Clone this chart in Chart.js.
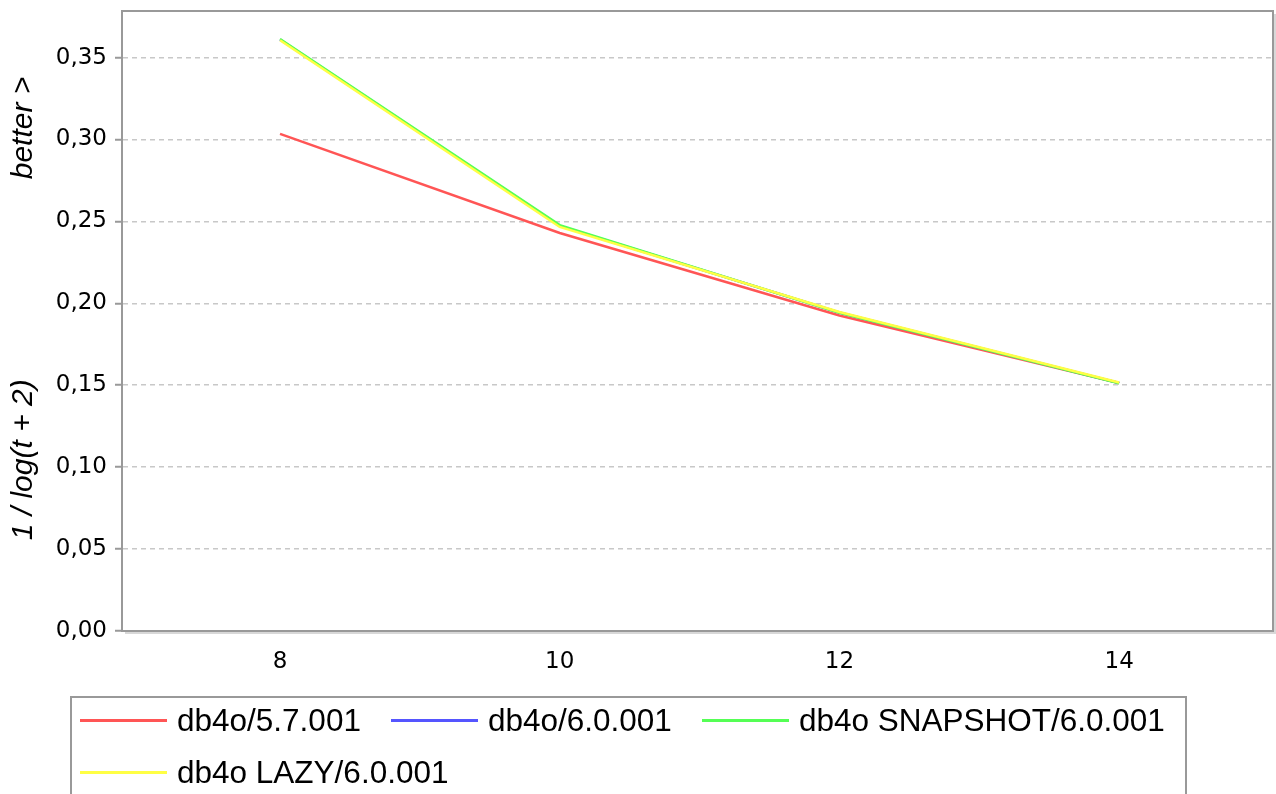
<!DOCTYPE html>
<html lang="en">
<head>
  <meta charset="UTF-8">
  <title>db4o benchmark</title>
  <script src="https://cdn.jsdelivr.net/npm/chart.js"></script>
  <style>
    html, body {
      margin: 0;
      padding: 0;
      background: #fff;
      overflow: hidden;
    }
    .wrap {
      position: relative;
      width: 1276px;
      height: 794px;
    }
    .legend {
      position: absolute;
      left: 70px;
      top: 696px;
      width: 1117px;
      height: 200px;
      box-sizing: border-box;
      border: 2px solid #999;
      padding: 0 0 0 8px;
      display: flex;
      flex-wrap: wrap;
      align-content: flex-start;
      column-gap: 30px;
      row-gap: 8px;
      font-family: 'Liberation Sans', Arial, sans-serif;
      font-size: 31.5px;
      color: #000;
    }
    .legend .item {
      display: flex;
      align-items: center;
      height: 44px;
      white-space: nowrap;
    }
    .legend .line {
      display: inline-block;
      width: 87px;
      height: 3px;
      margin-right: 10px;
    }
  </style>
</head>
<body>
  <div class="wrap">
    <canvas id="chart" width="1276" height="794"></canvas>
    <div class="legend" id="legend"></div>
  </div>

<script>
// threads on the x axis
const threads = [8, 10, 12, 14];
const xTicks = [8, 10, 12, 14];
const yTicks = [0, 0.05, 0.10, 0.15, 0.20, 0.25, 0.30, 0.35];

// 1 / log(t + 2) per version
const db4o57 = [0.3034, 0.2429, 0.1926, 0.1514];
const db4o60 = [0.3610, 0.2472, 0.1944, 0.1514];
const db4oSnapshot = [0.3613, 0.2477, 0.1942, 0.1512];
const db4oLazy = [0.3606, 0.2466, 0.1947, 0.1517];

const seriesNames = ['db4o/5.7.001', 'db4o/6.0.001', 'db4o SNAPSHOT/6.0.001', 'db4o LAZY/6.0.001'];
const seriesColors = ['#ff5555', '#5555ff', '#55ff55', '#ffff44'];

const tickFont = { family: "'DejaVu Sans', sans-serif", size: 23 };

function punkte(werte) {
  return threads.map((t, i) => ({ x: t, y: werte[i] }));
}

// frame round the plot area, with a light shadow
const rahmen = {
  id: 'rahmen',
  afterDraw(chart) {
    const { ctx, chartArea: a } = chart;
    ctx.save();
    ctx.strokeStyle = '#d8d8d8';
    ctx.lineWidth = 2;
    ctx.beginPath();
    ctx.moveTo(a.left + 3, a.bottom + 2);
    ctx.lineTo(a.right + 2, a.bottom + 2);
    ctx.lineTo(a.right + 2, a.top + 3);
    ctx.stroke();
    ctx.strokeStyle = '#999';
    ctx.strokeRect(a.left, a.top, a.right - a.left, a.bottom - a.top);
    ctx.restore();
  }
};

const chart = new Chart(document.getElementById('chart'), {
  type: 'line',
  data: {
    datasets: [db4o57, db4o60, db4oSnapshot, db4oLazy].map((werte, i) => ({
      label: seriesNames[i],
      data: punkte(werte),
      borderColor: seriesColors[i],
      backgroundColor: seriesColors[i],
      borderWidth: 2.5,
      pointRadius: 0,
      tension: 0,
      fill: false,
      order: 3 - i   // later series are drawn on top
    }))
  },
  options: {
    responsive: false,
    animation: false,
    layout: { padding: { top: 11, right: 3, bottom: 103, left: 0 } },
    plugins: {
      legend: { display: false },
      tooltip: { enabled: false }
    },
    scales: {
      x: {
        type: 'linear',
        min: 6.87,
        max: 15.1,
        afterBuildTicks: s => { s.ticks = xTicks.map(v => ({ value: v })); },
        afterFit: s => { s.height = 60; s.paddingLeft = 0; s.paddingRight = 0; },
        grid: { display: false, drawTicks: false },
        border: { color: '#999', width: 2 },
        ticks: {
          padding: 17,
          color: '#000',
          font: tickFont,
          callback: v => String(v)
        }
      },
      y: {
        min: 0,
        max: 0.3784,
        afterBuildTicks: s => { s.ticks = yTicks.map(v => ({ value: v })); },
        afterFit: s => { s.width = 122; s.paddingTop = 0; s.paddingBottom = 0; },
        grid: {
          color: '#c8c8c8',
          lineWidth: 1.5,
          tickColor: '#999',
          tickLength: 7,
          tickWidth: 2
        },
        border: { color: '#999', width: 2, dash: [5, 4] },
        ticks: {
          padding: 8,
          color: '#000',
          font: tickFont,
          callback: v => v.toFixed(2).replace('.', ',')
        },
        title: {
          display: true,
          text: '   1 / log(t + 2)                        better >',
          color: '#000',
          padding: { top: 6, bottom: 0 },
          font: { family: "'Liberation Sans', Arial, sans-serif", size: 30, style: 'italic' }
        }
      }
    }
  },
  plugins: [rahmen]
});

// legend as html, built from the datasets
const legend = document.getElementById('legend');
chart.data.datasets.forEach(ds => {
  const item = document.createElement('div');
  item.className = 'item';
  const line = document.createElement('span');
  line.className = 'line';
  line.style.background = ds.borderColor;
  const text = document.createElement('span');
  text.textContent = ds.label;
  item.appendChild(line);
  item.appendChild(text);
  legend.appendChild(item);
});
</script>
</body>
</html>
